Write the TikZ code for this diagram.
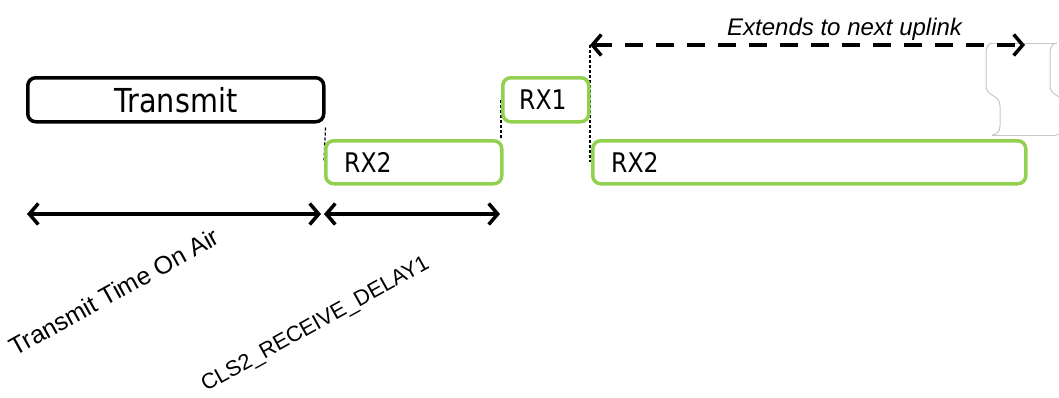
\documentclass[tikz,border=0pt]{standalone}
\usepackage{fontspec}
\setmainfont{Liberation Sans}
\newfontfamily\boxfont[FakeStretch=0.87]{DejaVu Sans}
\usetikzlibrary{arrows.meta,backgrounds}
\definecolor{rxgreen}{RGB}{146,208,80}
\definecolor{scrollgray}{RGB}{200,200,200}
\begin{document}
\begin{tikzpicture}[x=1pt,y=-1pt,
  box/.style={draw, line width=3.5pt, rounded corners=8pt, fill=white, inner sep=0pt, anchor=north west},
  txbox/.style={box, draw=black},
  rxbox/.style={box, draw=rxgreen},
  boxtext/.style={font=\boxfont\fontsize{27}{30}\selectfont, inner sep=0pt, anchor=west},
  span/.style={line width=3.5pt, {Straight Barb[length=9pt,width=21pt]}-{Straight Barb[length=9pt,width=21pt]}},
  extspan/.style={span, dash pattern=on 18pt off 13pt},
  guide/.style={line width=1.3pt, dash pattern=on 3pt off 2pt},
  rotlabel/.style={inner sep=0pt, anchor=base west, rotate=29},
  scroll/.style={draw=scrollgray, line width=1pt}
]
\useasboundingbox (0,0) rectangle (1059,397);

% scroll (break) shape at right
\def\edge#1{(#1,43) .. controls (#1-5,43) and (#1-7,47) .. (#1-7,55) -- (#1-7,86)
  .. controls (#1-7,97) and (#1+7,94) .. (#1+7,106) -- (#1+7,126)
  .. controls (#1+7,132) and (#1+3,135) .. (#1-1,135)}
\draw[scroll] \edge{993};
\draw[scroll] \edge{1057};
\draw[scroll] (993,43) -- (1057,43);
\draw[scroll] (992,135) -- (1056,135);

% boxes
\node[txbox, minimum width=296, minimum height=44] (tx) at (26,76) {};
\node[font=\boxfont\fontsize{33}{36}\selectfont, inner sep=0pt] (txt) at (tx.center) {Transmit};
\node[rxbox, minimum width=176, minimum height=43] (rx2a) at (324,139) {};
\node[boxtext] (rx2at) at ([xshift=20pt]rx2a.west) {RX2};
\node[rxbox, minimum width=86, minimum height=44] (rx1) at (501,76) {};
\node[boxtext] (rx1t) at ([xshift=18pt]rx1.west) {RX1};
\node[rxbox, minimum width=433, minimum height=43] (rx2b) at (591,139) {};
\node[boxtext] (rx2bt) at ([xshift=20pt]rx2b.west) {RX2};

% guide lines behind boxes
\begin{scope}[on background layer]
\draw[guide] ([yshift=-4pt]tx.south east) -- (rx2a.west);
\draw[guide] (rx1.west) -- (rx1.west |- rx2a.north);
\coordinate (e1) at (590,45);
\coordinate (e2) at (1025,45);
\draw[guide] (e1) -- (e1 |- rx2b.west);
\end{scope}

% extends arrow
\draw[extspan] (e1) -- (e2);
\node[font=\itshape\fontsize{24}{28}\selectfont, inner sep=0pt, anchor=base west] (ext) at (727,35) {Extends to next uplink};

% timing arrows
\coordinate (a0) at (27,214);
\coordinate (a1) at (321,214);
\coordinate (a2) at (324,214);
\coordinate (a3) at (500,214);
\draw[span] (a0) -- (a1);
\draw[span] (a2) -- (a3);

\node[rotlabel, font=\fontsize{25}{29}\selectfont] (l1) at (15,357) {Transmit Time On Air};
\node[rotlabel, font=\fontsize{21.8}{25}\selectfont] (l2) at (206,392) {CLS2\_RECEIVE\_DELAY1};
\end{tikzpicture}
\end{document}
